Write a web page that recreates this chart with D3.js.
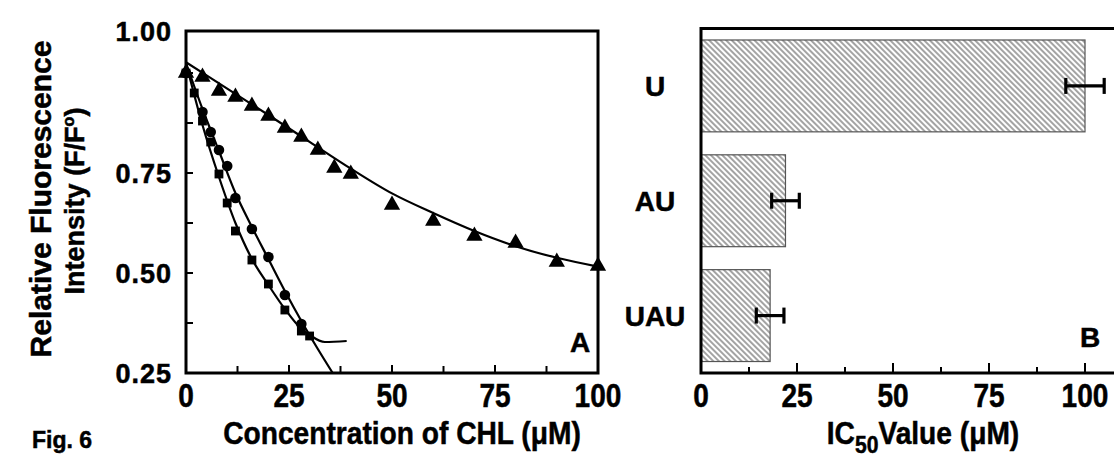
<!DOCTYPE html>
<html>
<head>
<meta charset="utf-8">
<script src="https://cdn.jsdelivr.net/npm/d3@7"></script>
<style>
  body { margin: 0; background: #fff; }
  svg { display: block; }
  text { font-family: "Liberation Sans", Arial, sans-serif; font-weight: bold; fill: #000; stroke: #000; stroke-width: 0.5px; }
</style>
</head>
<body>
<div id="chart"></div>
<script>
// panel A : quenching curves (triangles, circles, squares)
const concTri = [0, 4, 8, 12, 16, 20, 24, 28, 32, 36, 40, 50, 60, 70, 80, 90, 100]
const fTri = [1.00, 0.99, 0.955, 0.94, 0.9175, 0.8925, 0.8625, 0.84, 0.8075, 0.7625, 0.7475, 0.67, 0.63, 0.5925, 0.575, 0.5275, 0.5175]

const concCirc = [0, 4, 6, 8, 10, 12, 16, 20, 24, 28]
const fCirc = [1.00, 0.9025, 0.8525, 0.8075, 0.7675, 0.6875, 0.61, 0.54, 0.445, 0.3725]

const concSq = [0, 2, 4, 6, 8, 10, 12, 16, 20, 24, 28, 30]
const fSq = [1.00, 0.95, 0.88, 0.8275, 0.7475, 0.675, 0.605, 0.5325, 0.4725, 0.4075, 0.355, 0.3425]

// fitted lines as drawn in the figure
const fitTriX = [0, 10, 20, 30, 40, 50, 60, 70, 80, 90, 100]
const fitTriY = [1.027, 0.961, 0.895, 0.828, 0.761, 0.699, 0.65, 0.605, 0.567, 0.538, 0.516]
const fitCircX = [0, 4, 8, 12, 16, 20, 24, 28, 32, 35.6]
const fitCircY = [1.025, 0.91, 0.805, 0.70, 0.615, 0.535, 0.455, 0.38, 0.31, 0.25]
const fitSqX = [0, 4, 8, 12, 16, 20, 24, 28, 30, 33.7, 39]
const fitSqY = [1.025, 0.87, 0.74, 0.625, 0.535, 0.47, 0.41, 0.36, 0.345, 0.3275, 0.33]

const xTicksA = [0, 25, 50, 75, 100]
const yTicksA = [0.25, 0.50, 0.75]
const yTopLabel = '1.00'

// panel B : IC50 bars
const rnas = ['U', 'AU', 'UAU']
const ic50 = [100, 22, 18]
const ic50Err = [5, 3.6, 3.6]
const xTicksB = [0, 25, 50, 75, 100]

const W = 1114, H = 459

const svg = d3.select('#chart').append('svg')
  .attr('width', W)
  .attr('height', H)

const defs = svg.append('defs')
const pat = defs.append('pattern')
  .attr('id', 'hatch')
  .attr('patternUnits', 'userSpaceOnUse')
  .attr('width', 4)
  .attr('height', 4)
  .attr('patternTransform', 'rotate(-45)')
pat.append('rect').attr('width', 4).attr('height', 4).attr('fill', '#fff')
pat.append('line')
  .attr('x1', 1).attr('y1', 0).attr('x2', 1).attr('y2', 4)
  .attr('stroke', '#666').attr('stroke-width', 1.2)

/* ---------- panel A ---------- */
const xA = d3.scaleLinear().domain([0, 100]).range([186, 598])
const yA = d3.scaleLinear().domain([0.25, 1.105]).range([373, 31])

const gA = svg.append('g')

gA.append('rect')
  .attr('x', xA(0)).attr('y', yA.range()[1])
  .attr('width', xA(100) - xA(0))
  .attr('height', yA.range()[0] - yA.range()[1])
  .attr('fill', 'none').attr('stroke', '#000').attr('stroke-width', 3)

// ticks inside the frame
const xMinorA = d3.range(0, 100.1, 12.5)
gA.selectAll('.xtickA').data(xMinorA.slice(1, -1)).enter().append('line')
  .attr('x1', d => xA(d)).attr('x2', d => xA(d))
  .attr('y1', yA(0.25)).attr('y2', d => yA(0.25) - (d % 25 === 0 ? 8 : 7))
  .attr('stroke', '#000').attr('stroke-width', 2)

const yMinorA = d3.range(0.375, 1.01, 0.125)
gA.selectAll('.ytickA').data(yMinorA).enter().append('line')
  .attr('x1', xA(0)).attr('x2', xA(0) + 7)
  .attr('y1', d => yA(d)).attr('y2', d => yA(d))
  .attr('stroke', '#000').attr('stroke-width', 2)

gA.selectAll('.xlabA').data(xTicksA).enter().append('text')
  .attr('transform', d => 'translate(' + xA(d) + ',407) scale(0.85,1)')
  .attr('text-anchor', 'middle')
  .style('font-size', '33px')
  .text(d => d)

gA.selectAll('.ylabA').data(yTicksA).enter().append('text')
  .attr('x', 172).attr('y', d => yA(d))
  .attr('dy', '0.36em')
  .attr('text-anchor', 'end')
  .style('font-size', '27px')
  .style('letter-spacing', '1px')
  .text(d => d3.format('.2f')(d))

gA.append('text')
  .attr('x', 172).attr('y', yA.range()[1])
  .attr('dy', '0.36em')
  .attr('text-anchor', 'end')
  .style('font-size', '27px')
  .style('letter-spacing', '1px')
  .text(yTopLabel)

const line = d3.line()
  .x(d => xA(d[0]))
  .y(d => yA(d[1]))
  .curve(d3.curveMonotoneX)

const fits = [
  d3.zip(fitTriX, fitTriY),
  d3.zip(fitCircX, fitCircY),
  d3.zip(fitSqX, fitSqY)
]

gA.selectAll('.fit').data(fits).enter().append('path')
  .attr('d', line)
  .attr('fill', 'none')
  .attr('stroke', '#000')
  .attr('stroke-width', 2.2)

const sym = (type, size) => d3.symbol().type(type).size(size)

gA.selectAll('.tri').data(d3.zip(concTri, fTri)).enter().append('path')
  .attr('transform', d => 'translate(' + xA(d[0]) + ',' + yA(d[1]) + ')')
  .attr('d', sym(d3.symbolTriangle, 115))

gA.selectAll('.circ').data(d3.zip(concCirc, fCirc)).enter().append('path')
  .attr('transform', d => 'translate(' + xA(d[0]) + ',' + yA(d[1]) + ')')
  .attr('d', sym(d3.symbolCircle, 88))

gA.selectAll('.sq').data(d3.zip(concSq, fSq)).enter().append('path')
  .attr('transform', d => 'translate(' + xA(d[0]) + ',' + yA(d[1]) + ')')
  .attr('d', sym(d3.symbolSquare, 78))

gA.append('text')
  .attr('x', 580).attr('y', 352)
  .attr('text-anchor', 'middle')
  .style('font-size', '28px')
  .text('A')

gA.append('text')
  .attr('transform', 'translate(402,444) scale(0.88,1)')
  .attr('text-anchor', 'middle')
  .style('font-size', '32px')
  .text('Concentration of CHL (\u03bcM)')

const ytitle = gA.append('g')
  .attr('transform', 'translate(0,199) rotate(-90)')
ytitle.append('text')
  .attr('x', 0).attr('y', 51)
  .attr('text-anchor', 'middle')
  .style('font-size', '30px')
  .text('Relative Fluorescence')
const t2 = ytitle.append('text')
  .attr('x', -2).attr('y', 84)
  .attr('text-anchor', 'middle')
  .style('font-size', '27px')
t2.append('tspan').text('Intensity (F/F')
t2.append('tspan').attr('dy', -10).style('font-size', '16px').text('o')
t2.append('tspan').attr('dy', 10).text(')')

svg.append('text')
  .attr('x', 32).attr('y', 448)
  .style('font-size', '23px')
  .text('Fig. 6')

/* ---------- panel B ---------- */
const xB = d3.scaleLinear().domain([0, 100]).range([701, 1085])
const yB = d3.scaleBand().domain(rnas).range([28.5, 373])
  .paddingInner(0.2).paddingOuter(0.1)

const gB = svg.append('g')

const bars = rnas.map((r, i) => ({ name: r, value: ic50[i], err: ic50Err[i] }))

gB.selectAll('.bar').data(bars).enter().append('rect')
  .attr('x', xB(0))
  .attr('y', d => yB(d.name))
  .attr('width', d => xB(d.value) - xB(0))
  .attr('height', yB.bandwidth())
  .attr('fill', 'url(#hatch)')
  .attr('stroke', '#555')
  .attr('stroke-width', 1.2)

const eb = gB.selectAll('.err').data(bars).enter().append('g')
  .attr('transform', d => 'translate(0,' + (yB(d.name) + yB.bandwidth() / 2) + ')')
eb.append('line')
  .attr('x1', d => xB(d.value - d.err)).attr('x2', d => xB(d.value + d.err))
  .attr('stroke', '#000').attr('stroke-width', 3.2)
eb.append('line')
  .attr('x1', d => xB(d.value - d.err)).attr('x2', d => xB(d.value - d.err))
  .attr('y1', -8).attr('y2', 8)
  .attr('stroke', '#000').attr('stroke-width', 3.2)
eb.append('line')
  .attr('x1', d => xB(d.value + d.err)).attr('x2', d => xB(d.value + d.err))
  .attr('y1', -8).attr('y2', 8)
  .attr('stroke', '#000').attr('stroke-width', 3.2)

// frame: left, top (runs off the page) and bottom axis
gB.append('path')
  .attr('d', 'M' + W + ',' + 28.5 + 'H' + xB(0) + 'V' + 373 + 'H' + W)
  .attr('fill', 'none').attr('stroke', '#000').attr('stroke-width', 3)

gB.selectAll('.xtickB').data(d3.range(12.5, 100.1, 12.5)).enter().append('line')
  .attr('x1', d => xB(d)).attr('x2', d => xB(d))
  .attr('y1', 373).attr('y2', d => 373 - (d % 25 === 0 ? 10 : 6))
  .attr('stroke', '#000').attr('stroke-width', 2)

gB.selectAll('.xlabB').data(xTicksB).enter().append('text')
  .attr('transform', d => 'translate(' + xB(d) + ',407) scale(0.85,1)')
  .attr('text-anchor', 'middle')
  .style('font-size', '33px')
  .text(d => d)

gB.selectAll('.cat').data(rnas).enter().append('text')
  .attr('x', 655).attr('y', d => yB(d) + yB.bandwidth() / 2)
  .attr('dy', '0.36em')
  .attr('text-anchor', 'middle')
  .style('font-size', '28px')
  .text(d => d)

gB.append('text')
  .attr('x', 1090).attr('y', 347)
  .attr('text-anchor', 'middle')
  .style('font-size', '28px')
  .text('B')

const xt = gB.append('text')
  .attr('transform', 'translate(923,444) scale(0.88,1)')
  .attr('text-anchor', 'middle')
  .style('font-size', '32px')
xt.append('tspan').text('IC')
xt.append('tspan').attr('dy', 9).style('font-size', '24px').text('50')
xt.append('tspan').attr('dy', -9).text('Value (\u03bcM)')
</script>
</body>
</html>
